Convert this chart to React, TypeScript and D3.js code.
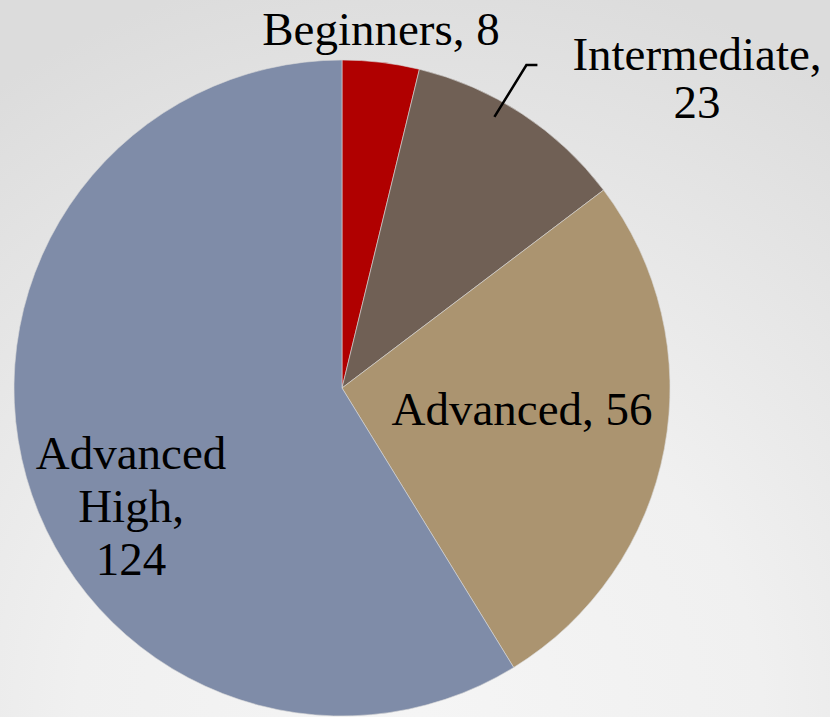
import React, { useEffect, useRef } from 'react'
import * as d3 from 'd3'

const categories = ['Beginners', 'Intermediate', 'Advanced', 'Advanced High']
const values = [8, 23, 56, 124]
const colors = ['#b00000', '#706055', '#ab9470', '#7f8ca8']

// label lines and anchor positions (layout only)
const labelLines: string[][] = [
  ['Beginners, 8'],
  ['Intermediate,', '23'],
  ['Advanced, 56'],
  ['Advanced', 'High,', '124'],
]
const labelPos = [
  { x: 381, y: 45 },
  { x: 697, y: 70 },
  { x: 522, y: 425 },
  { x: 131, y: 469 },
]

const W = 830
const H = 717
const cx = 342
const cy = 388
const R = 328

export default function App() {
  const svgRef = useRef<SVGSVGElement>(null)

  useEffect(() => {
    document.body.style.margin = '0'
    if (!svgRef.current) return
    const svg = d3.select(svgRef.current)
    svg.selectAll('*').remove()
    svg.attr('width', W).attr('height', H)

    const defs = svg.append('defs')
    const grad = defs
      .append('radialGradient')
      .attr('id', 'bg')
      .attr('gradientUnits', 'userSpaceOnUse')
      .attr('cx', 420)
      .attr('cy', 717)
      .attr('r', 760)
    grad.append('stop').attr('offset', '0%').attr('stop-color', '#f5f5f5')
    grad.append('stop').attr('offset', '45%').attr('stop-color', '#f0f0f0')
    grad.append('stop').attr('offset', '100%').attr('stop-color', '#dcdcdc')

    svg.append('rect').attr('width', W).attr('height', H).attr('fill', 'url(#bg)')

    const data = categories.map((c, i) => ({ name: c, value: values[i], color: colors[i] }))
    const pie = d3.pie<any>().value(d => d.value).sort(null)
    const arcGen = d3.arc<any>().innerRadius(0).outerRadius(R)
    const arcs = pie(data)

    const g = svg.append('g').attr('transform', `translate(${cx},${cy})`)
    g.selectAll('path')
      .data(arcs)
      .join('path')
      .attr('d', arcGen)
      .attr('fill', d => d.data.color)
      .attr('stroke', '#d8d8d8')
      .attr('stroke-width', 0.6)

    // leader line for Intermediate
    const a = arcs[1]
    const ang = a.startAngle + (a.endAngle - a.startAngle) * 0.4
    const sx = cx + (R - 17) * Math.sin(ang)
    const sy = cy - (R - 17) * Math.cos(ang)
    svg.append('polyline')
      .attr('points', `${sx},${sy} ${sx + 32},${65} ${sx + 43},${65}`)
      .attr('fill', 'none')
      .attr('stroke', '#000')
      .attr('stroke-width', 2.5)

    labelLines.forEach((lines, i) => {
      const t = svg.append('text')
        .attr('x', labelPos[i].x)
        .attr('y', labelPos[i].y)
        .attr('text-anchor', 'middle')
        .style('font-family', '"Liberation Serif", "Times New Roman", serif')
        .attr('font-size', 47)
        .attr('fill', '#000')
      lines.forEach((ln, j) => {
        t.append('tspan')
          .attr('x', labelPos[i].x)
          .attr('dy', j === 0 ? 0 : (i === 3 ? 53 : 48))
          .text(ln)
      })
    })
  }, [])

  return (
    <div>
      <svg ref={svgRef} style={{ display: 'block' }} />
    </div>
  )
}
